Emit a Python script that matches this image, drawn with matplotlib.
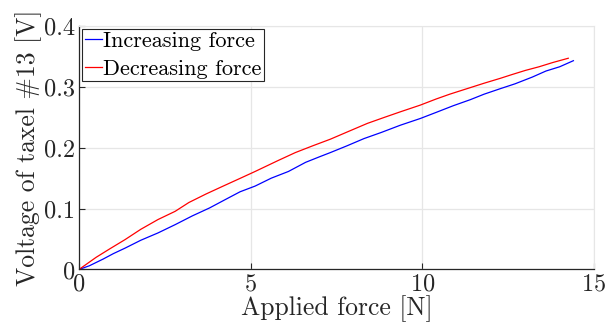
import matplotlib.pyplot as plt

plt.rcParams['font.family'] = ['cmr10', 'DejaVu Serif']
plt.rcParams['axes.formatter.use_mathtext'] = True

# taxel #13 response, loading and unloading
force_up = [0.0, 0.3, 0.7, 1.0, 1.34, 1.8, 2.3, 2.8, 3.3, 3.8, 4.2, 4.69, 5.13,
            5.6, 6.1, 6.6, 7.0, 7.32, 7.8, 8.3, 8.8, 9.36, 9.94, 10.4, 10.9,
            11.4, 11.8, 12.27, 12.7, 13.2, 13.6, 14.0, 14.4]
volt_up = [0.0, 0.006, 0.017, 0.026, 0.035, 0.048, 0.060, 0.0736, 0.088, 0.101,
           0.113, 0.1276, 0.137, 0.150, 0.161, 0.176, 0.185, 0.192, 0.203, 0.215,
           0.225, 0.237, 0.248, 0.258, 0.269, 0.279, 0.288, 0.297, 0.305, 0.316,
           0.326, 0.333, 0.343]

force_down = [14.25, 13.8, 13.4, 13.0, 12.6, 12.27, 11.8, 11.3, 10.8, 10.4,
              9.94, 9.36, 8.9, 8.4, 7.9, 7.32, 6.8, 6.3, 5.8, 5.13, 4.69, 4.2,
              3.7, 3.2, 2.8, 2.3, 1.8, 1.34, 0.9, 0.5, 0.2, 0.0]
volt_down = [0.347, 0.340, 0.333, 0.327, 0.320, 0.314, 0.306, 0.297, 0.288,
             0.280, 0.270, 0.259, 0.250, 0.240, 0.228, 0.214, 0.203, 0.192,
             0.179, 0.161, 0.1496, 0.137, 0.124, 0.110, 0.0955, 0.082, 0.066,
             0.049, 0.034, 0.020, 0.008, 0.0]

fig = plt.figure(figsize=(6.06, 3.29), dpi=100)
ax = fig.add_axes([0.1304, 0.181, 0.8498, 0.740])

ax.plot(force_up, volt_up, color='blue', lw=0.9, label='Increasing force')
ax.plot(force_down, volt_down, color='red', lw=0.9, label='Decreasing force')

ax.set_xlim(0, 15)
ax.set_ylim(0, 0.4)
ax.set_xticks([0, 5, 10, 15])
ax.set_yticks([0, 0.1, 0.2, 0.3, 0.4])
ax.set_yticklabels(['0', '0.1', '0.2', '0.3', '0.4'])
ax.grid(True, color='#e6e6e6', lw=0.9)
ax.set_axisbelow(True)
ax.tick_params(direction='in', length=4, width=0.8, labelsize=17.5,
               colors='#262626', pad=3)
for side in ['top', 'right']:
    ax.spines[side].set_color('#e6e6e6')
for side in ['left', 'bottom']:
    ax.spines[side].set_color('#262626')
    ax.spines[side].set_linewidth(0.9)

ax.set_xlabel('Applied force [N]', fontsize=18.5, color='#262626', labelpad=0)
ax.set_ylabel('Voltage of taxel #13 [V]', fontsize=18.5, color='#262626', labelpad=1)

leg = ax.legend(loc='upper left', fontsize=16, handlelength=0.8,
                handletextpad=0.05, borderpad=0.1, borderaxespad=0.15,
                labelspacing=0.36, fancybox=False, framealpha=1)
leg.get_frame().set_edgecolor('#262626')
leg.get_frame().set_linewidth(0.8)

fig.savefig('out.png', dpi=100)
